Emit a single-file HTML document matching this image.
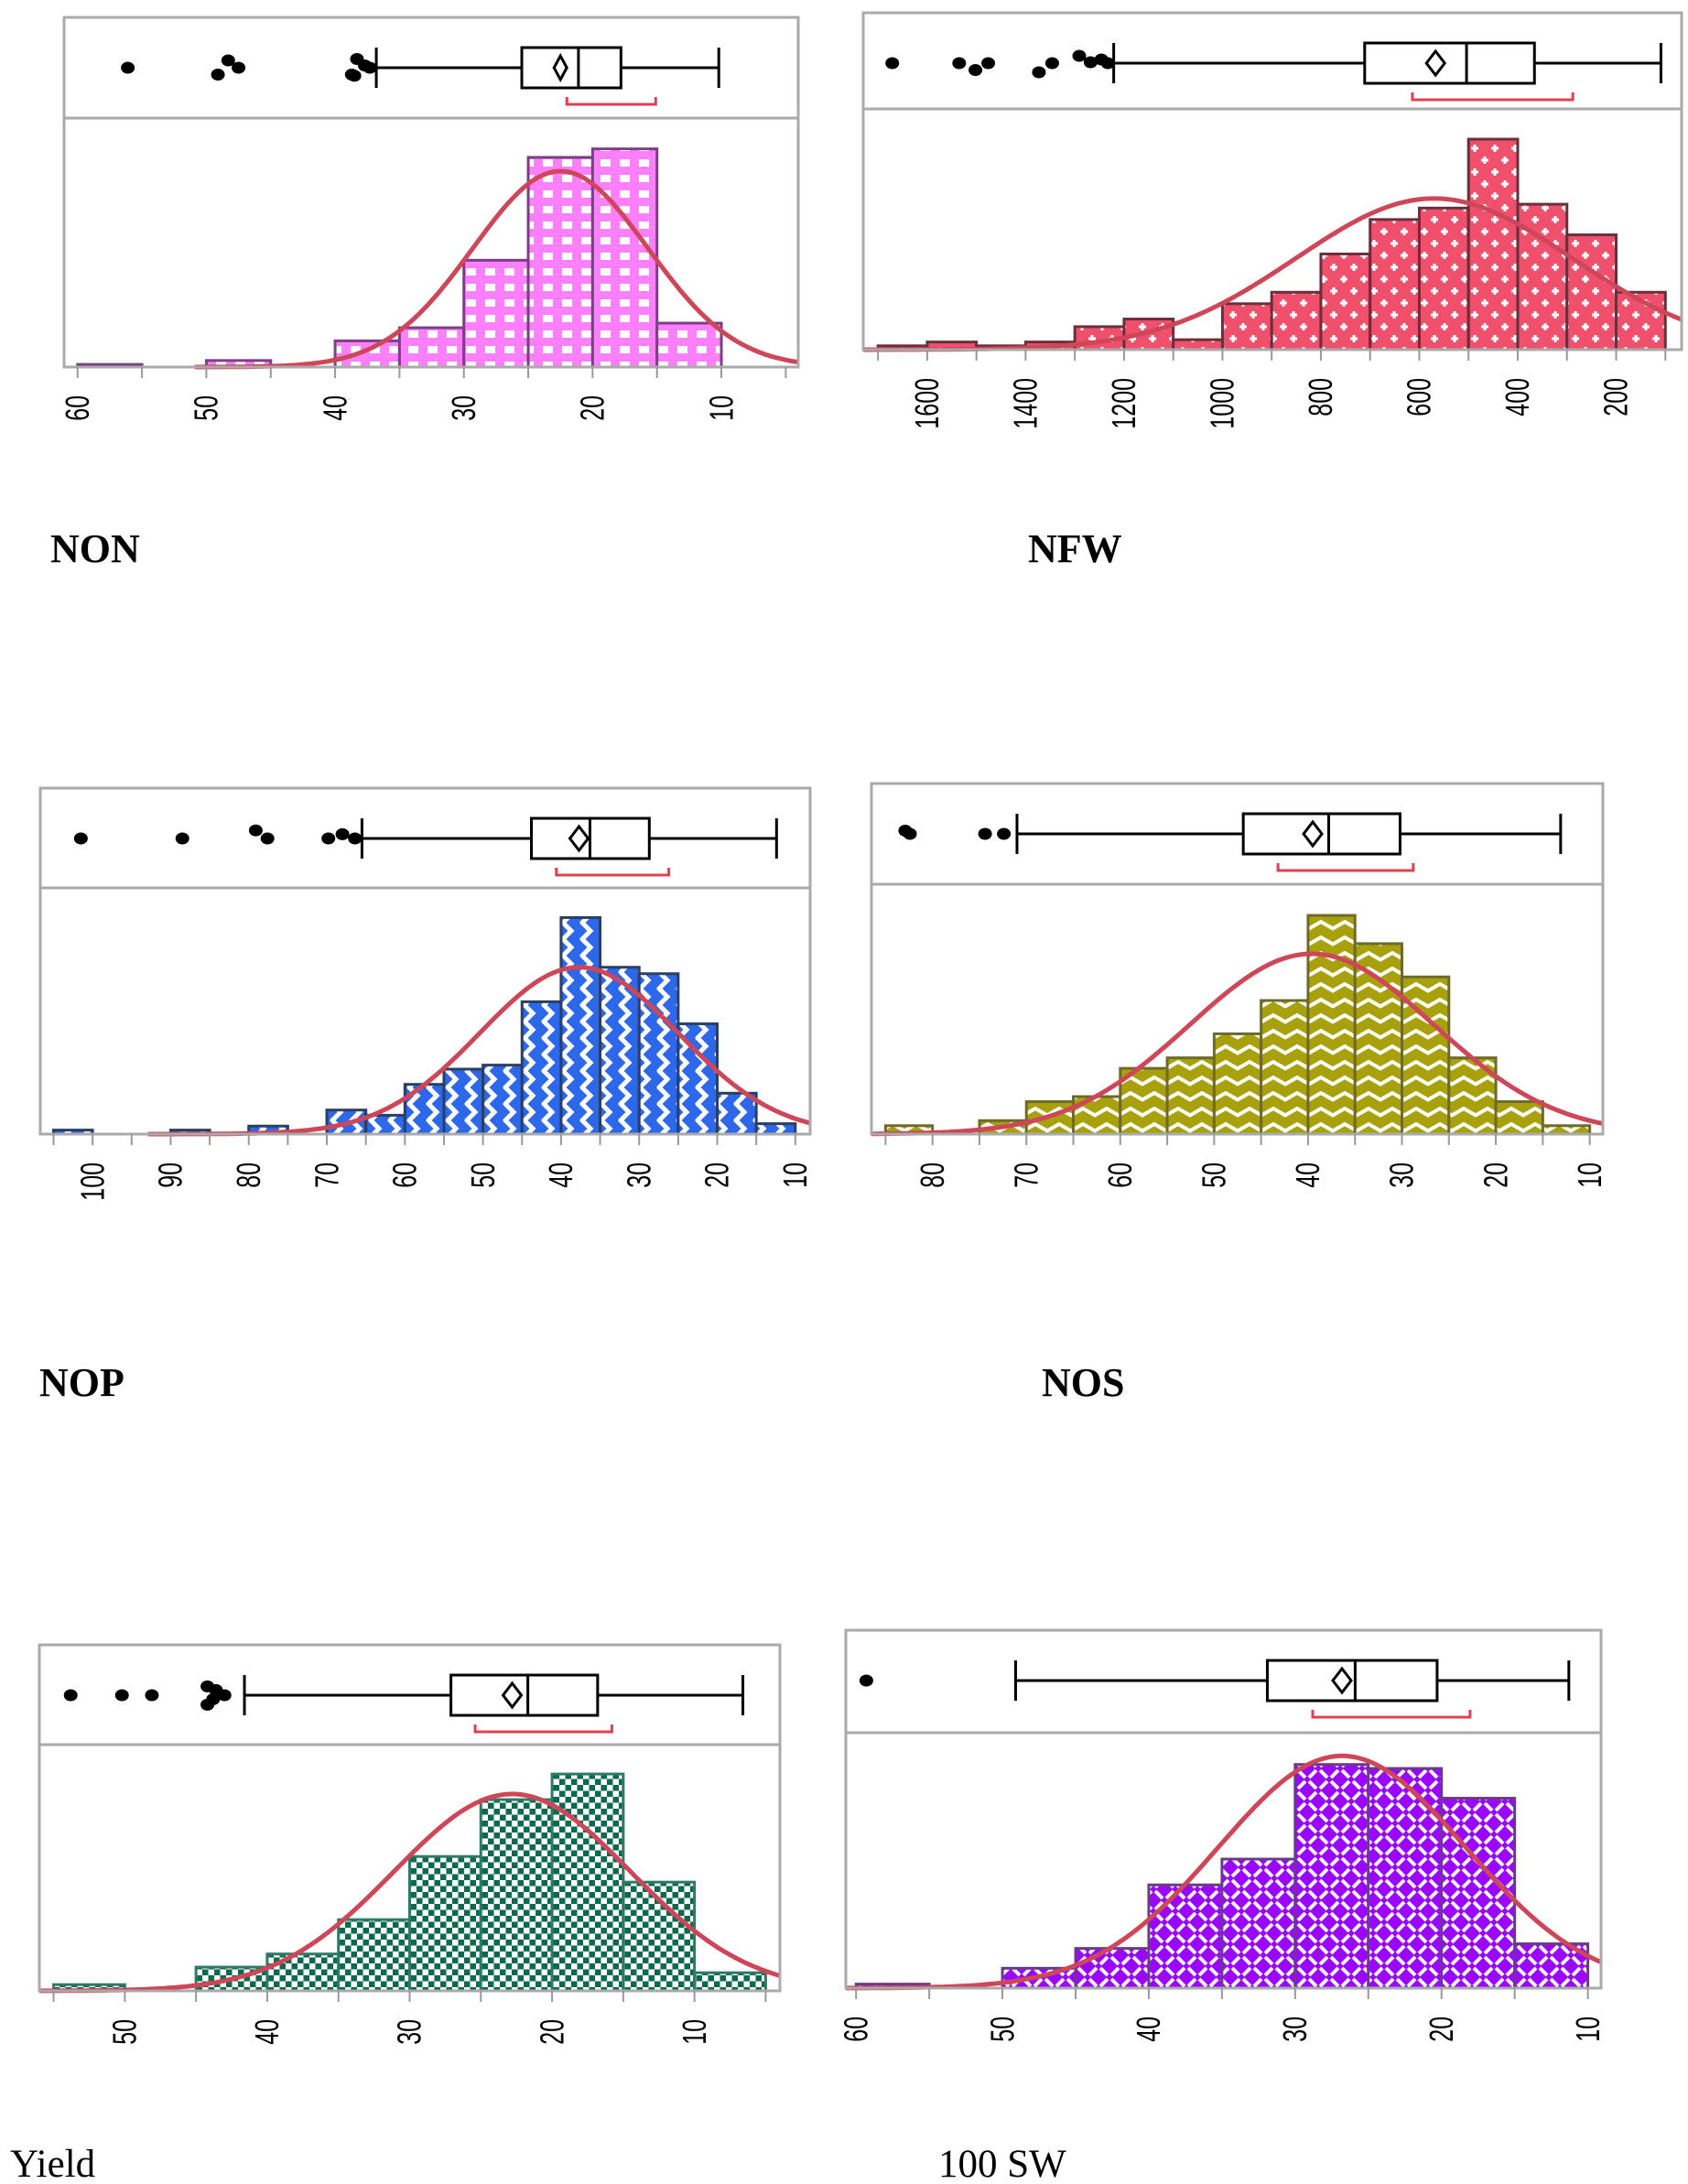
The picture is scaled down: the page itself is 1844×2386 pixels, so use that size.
<!DOCTYPE html>
<html><head><meta charset="utf-8"><title>Distributions</title>
<style>html,body{margin:0;padding:0;background:#fff;}svg{display:block;}</style></head>
<body>
<svg id="chart" xmlns="http://www.w3.org/2000/svg" width="1844" height="2386" viewBox="0 0 1844 2386">
<defs>
<pattern id="pNON" patternUnits="userSpaceOnUse" width="21" height="17"><rect width="21" height="17" fill="#ff80ff"/><rect x="5" y="4" width="11" height="8" fill="#fff"/></pattern>
<pattern id="pNFW" patternUnits="userSpaceOnUse" width="22" height="26"><rect width="22" height="26" fill="#f0506c"/><path d="M5,2v8M1,6h8M16,15v8M12,19h8" stroke="#fff" stroke-width="3"/></pattern>
<pattern id="pNOP" patternUnits="userSpaceOnUse" width="21" height="18"><rect width="21" height="18" fill="#2e68ea"/><path d="M5,-1L15,9L5,19" stroke="#fff" stroke-width="5" fill="none"/></pattern>
<pattern id="pNOS" patternUnits="userSpaceOnUse" width="26" height="17"><rect width="26" height="17" fill="#a9a10c"/><path d="M-1,12L13,4L27,12" stroke="#fff" stroke-width="4" fill="none"/></pattern>
<pattern id="pYLD" patternUnits="userSpaceOnUse" width="13" height="13"><rect width="13" height="13" fill="#0b6a4c"/><rect width="6.5" height="6.5" fill="#fff"/><rect x="6.5" y="6.5" width="6.5" height="6.5" fill="#fff"/></pattern>
<pattern id="pSW" patternUnits="userSpaceOnUse" width="24" height="24"><rect width="24" height="24" fill="#9b06ff"/><path d="M2,10L10,2M14,22L22,14M14,2L22,10M2,14L10,22" stroke="#fff" stroke-width="4"/></pattern>
</defs>
</svg>
<script>
// ---- data ----
const nonBins=[60,55,50,45,40,35,30,25,20,15];
const nonCounts=[0.4,0,1,0,4,6,16.3,32,33.3,6.7];
const nonStats=[36.8,25.5,21.1,17.8,10.2,22.5,22.0,15.1];
const nonOutliers=[56.1,49.1,48.3,47.5,38.7,38.5,38.3,37.7,37.3];
const nonJitter=[0,7.5,-8,0,7.5,8.8,-9.5,-2.5,0];
const nonCurve=[22.5,6.8,29.9,50.9];

const nfwBins=[1700,1600,1500,1400,1300,1200,1100,1000,900,800,700,600,500,400,300,200];
const nfwCounts=[1,2,1,2,6,8,2.6,12,15,25,34,37,55,38,30,15];
const nfwStats=[1221,711,504,366,109,567,614,288];
const nfwOutliers=[1671,1535,1502,1476,1373,1346,1291,1268,1246,1233];
const nfwJitter=[0,0,7.5,0,10,0,-8,-1,-4,0];
const nfwCurve=[570,280,39.5,1730];

const nopBins=[105,100,95,90,85,80,75,70,65,60,55,50,45,40,35,30,25,20,15];
const nopCounts=[1,0,0,1,0,2,0,6,4.7,12.4,16.2,17.2,33,54,41.6,40,27.5,10.2,2.6];
const nopStats=[65.5,43.8,36.3,28.7,12.4,37.7,40.6,26.2];
const nopOutliers=[101.5,88.5,79.1,77.6,69.8,68,66.4];
const nopJitter=[0,0,-8.8,0,0,-4.6,0];
const nopCurve=[37.7,12.7,41.6,92.9];

const nosBins=[85,80,75,70,65,60,55,50,45,40,35,30,25,20,15];
const nosCounts=[2,0,3.2,7.7,8.9,15.6,18.1,23.8,31.7,51.9,45.2,37.3,18.1,7.7,2];
const nosStats=[71.0,46.9,37.8,30.2,13.1,39.5,43.2,28.8];
const nosOutliers=[82.9,82.4,74.4,72.4];
const nosJitter=[-3.5,0,0,0];
const nosCurve=[39.6,13,42.8,86.5];

const yldBins=[55,50,45,40,35,30,25,20,15,10];
const yldCounts=[1,0,3.8,5.9,11.4,21.5,30.6,34.7,17.4,2.9];
const yldStats=[41.6,27.1,21.7,16.8,6.6,22.8,25.4,15.8];
const yldOutliers=[53.8,50.2,48.1,44.2,43.6,43.0,44.2,43.8];
const yldJitter=[0,0,0,-9.6,-5.6,0,10.4,4.4];
const yldCurve=[22.8,8.3,31.5,56.0];

const swBins=[60,55,50,45,40,35,30,25,20,15];
const swCounts=[0.6,0,3,6,15.6,19.5,33.8,33.2,28.7,6.7];
const swStats=[49.1,31.9,25.9,20.3,11.3,26.8,28.8,18.05];
const swOutliers=[59.3];
const swJitter=[0];
const swCurve=[26.8,8.45,35.1,60.7];

// ---- layout ----
const panels=[
 {id:'non',L:70,R:872,T:19,D:129,B:401,vL:61.05,vR:4.03,bins:nonBins,counts:nonCounts,bw:5,ymax:38,tick:5,lab:10,stats:nonStats,out:nonOutliers,jit:nonJitter,curve:nonCurve,pat:'pNON',stroke:'#7b3f86',title:'NON',tx:55,ty:614,bold:true,dw:7},
 {id:'nfw',L:943,R:1837,T:14,D:119,B:382,vL:1730,vR:67,bins:nfwBins,counts:nfwCounts,bw:100,ymax:62.9,tick:100,lab:200,stats:nfwStats,out:nfwOutliers,jit:nfwJitter,curve:nfwCurve,pat:'pNFW',stroke:'#6b2f3c',title:'NFW',tx:1123,ty:614,bold:true,dw:10},
 {id:'nop',L:44,R:885,T:861,D:970,B:1239,vL:106.7,vR:8.1,bins:nopBins,counts:nopCounts,bw:5,ymax:61.4,tick:5,lab:10,stats:nopStats,out:nopOutliers,jit:nopJitter,curve:nopCurve,pat:'pNOP',stroke:'#2a3f66',title:'NOP',tx:43,ty:1525,bold:true,dw:10},
 {id:'nos',L:952,R:1751,T:856,D:966,B:1239,vL:86.5,vR:8.6,bins:nosBins,counts:nosCounts,bw:5,ymax:59.3,tick:5,lab:10,stats:nosStats,out:nosOutliers,jit:nosJitter,curve:nosCurve,pat:'pNOS',stroke:'#6e6a2a',title:'NOS',tx:1138,ty:1525,bold:true,dw:10},
 {id:'yield',L:43,R:852,T:1797,D:1906,B:2175,vL:56.0,vR:4.0,bins:yldBins,counts:yldCounts,bw:5,ymax:39.4,tick:5,lab:10,stats:yldStats,out:yldOutliers,jit:yldJitter,curve:yldCurve,pat:'pYLD',stroke:'#2f7a66',title:'Yield',tx:11,ty:2378,bold:false,dw:10},
 {id:'sw',L:924,R:1749,T:1781,D:1893,B:2172,vL:60.7,vR:9.1,bins:swBins,counts:swCounts,bw:5,ymax:38.6,tick:5,lab:10,stats:swStats,out:swOutliers,jit:swJitter,curve:swCurve,pat:'pSW',stroke:'#6a3a8a',title:'100 SW',tx:1025,ty:2378,bold:false,dw:10}
];
const NS='http://www.w3.org/2000/svg';
const svg=document.getElementById('chart');
function mk(tag,attrs,parent){const e=document.createElementNS(NS,tag);for(const k in attrs)e.setAttribute(k,attrs[k]);(parent||svg).appendChild(e);return e;}

panels.forEach(p=>{
  const g=mk('g',{});
  
  
  const x=v=>p.L+(p.vL-v)/(p.vL-p.vR)*(p.R-p.L);
  const y=c=>p.B-c/p.ymax*(p.B-p.D);
  // bars
  p.bins.forEach((hi,i)=>{
    const c=p.counts[i]; if(c<=0) return;
    const r=mk('rect',{x:x(hi),y:y(c),width:x(hi-p.bw)-x(hi),height:p.B-y(c),fill:'url(#'+p.pat+')',stroke:p.stroke,'stroke-width':3},g);
    
    
  });
  // curve
  const [mu,sd,pk,st]=p.curve; let d='';
  const n=200;
  for(let k=0;k<=n;k++){const v=st+(p.vR-st)*k/n;const c=pk*Math.exp(-0.5*((v-mu)/sd)**2);d+=(k?'L':'M')+x(v).toFixed(1)+','+y(c).toFixed(1);}
  const cv=mk('path',{d:d,fill:'none',stroke:'#cf4659','stroke-width':5},g);
  
  
  // frame
  const fr=mk('rect',{x:p.L,y:p.T,width:p.R-p.L,height:p.B-p.T,fill:'none',stroke:'#aaaaaa','stroke-width':3},g);
  
  
  const dv=mk('line',{x1:p.L,x2:p.R,y1:p.D,y2:p.D,stroke:'#aaaaaa','stroke-width':3},g);
  
  
  // ticks
  const start=Math.floor(p.vL/p.tick)*p.tick;
  for(let v=start;v>=p.vR;v-=p.tick){
    const t=mk('line',{x1:x(v),x2:x(v),y1:p.B,y2:p.B+12,stroke:'#999','stroke-width':2},g);
    
    
    if(Math.round(v)%p.lab===0){
      const tx=mk('text',{transform:'translate('+x(v)+','+(p.B+31)+') scale(1.45,1) rotate(-90)','text-anchor':'end','dominant-baseline':'central','font-family':'Liberation Sans, sans-serif','font-size':25,fill:'#000'},g);
      tx.textContent=v;
      
      
    }
  }
  // box plot
  const s=p.stats, bt=p.T+33, bb=p.T+77, bc=(bt+bb)/2;
  const wl=mk('line',{x1:x(s[0]),x2:x(s[1]),y1:bc,y2:bc,stroke:'#000','stroke-width':3},g);
  
  
  const wr=mk('line',{x1:x(s[3]),x2:x(s[4]),y1:bc,y2:bc,stroke:'#000','stroke-width':3},g);
  
  
  [s[0],s[4]].forEach(v=>{const cp=mk('line',{x1:x(v),x2:x(v),y1:bt,y2:bb,stroke:'#000','stroke-width':3},g);
    
    });
  const bx=mk('rect',{x:x(s[1]),y:bt,width:x(s[3])-x(s[1]),height:bb-bt,fill:'#fff',stroke:'#000','stroke-width':3},g);
  
  
  const md=mk('line',{x1:x(s[2]),x2:x(s[2]),y1:bt,y2:bb,stroke:'#000','stroke-width':3},g);
  
  
  const mx=x(s[5]),dw=p.dw;
  const dm=mk('path',{d:'M'+(mx-dw)+','+bc+'L'+mx+','+(bc-13)+'L'+(mx+dw)+','+bc+'L'+mx+','+(bc+13)+'Z',fill:'#fff',stroke:'#000','stroke-width':3},g);
  
  
  const by1=p.T+87, by2=p.T+95;
  const br=mk('path',{d:'M'+x(s[6])+','+by1+'V'+by2+'H'+x(s[7])+'V'+by1,fill:'none',stroke:'#e0404f','stroke-width':3},g);
  
  
  p.out.forEach((v,i)=>{const o=mk('ellipse',{cx:x(v),cy:bc+p.jit[i],rx:7.5,ry:6.5,fill:'#000'},g);
    
    });
  // title
  const tt=mk('text',{x:p.tx,y:p.ty,'font-family':'Liberation Serif, serif','font-size':p.bold?44:43,'font-weight':p.bold?'bold':'normal',fill:'#000'},g);
  tt.textContent=p.title;
  
  
});
</script>
</body></html>
